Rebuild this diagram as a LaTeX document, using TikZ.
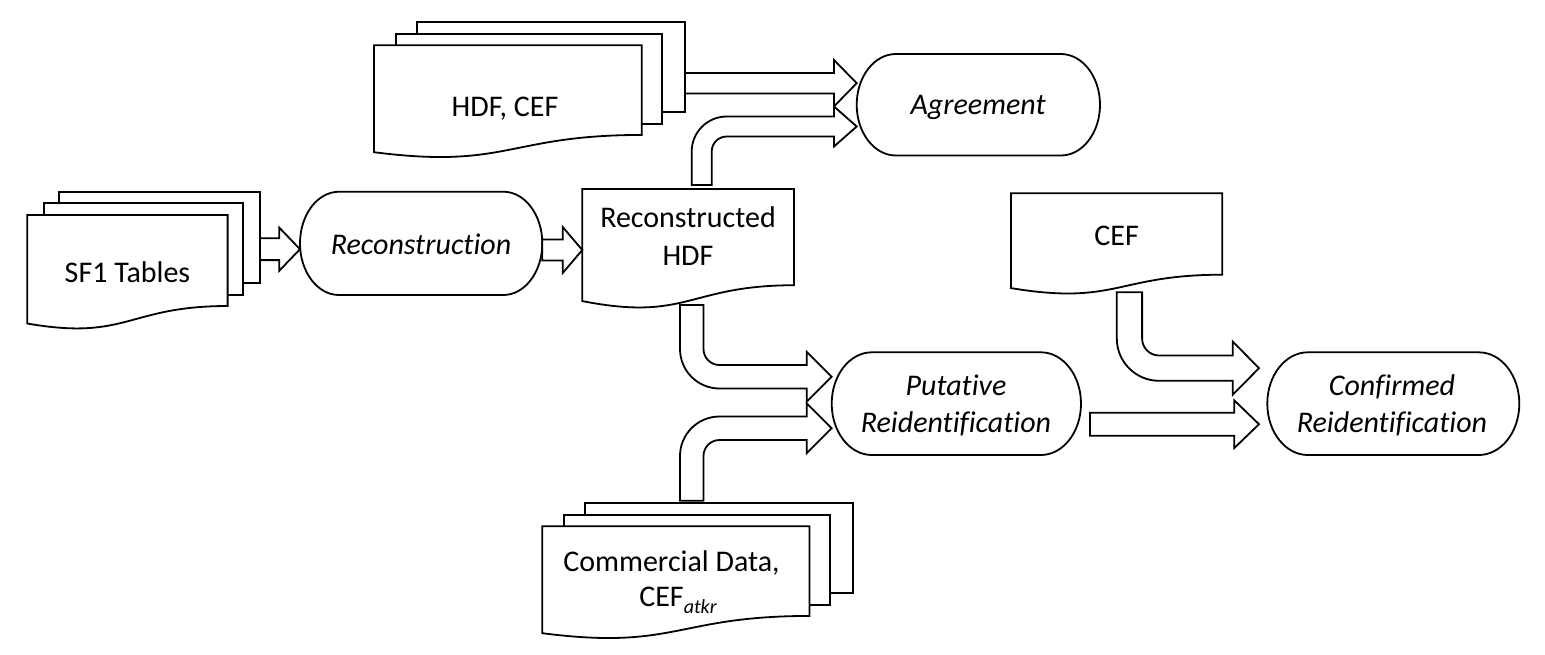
\documentclass[tikz,border=0pt]{standalone}
\usepackage{fontspec}
\setmainfont{Carlito}[Ligatures=CommonOff]
\tikzset{
  shapeline/.style={draw=black, line width=1.8pt, fill=white, line join=miter},
  lbl/.style={anchor=base, inner sep=0pt, font=\fontsize{30}{36.6}\selectfont},
  lbli/.style={anchor=base, inner sep=0pt, font=\fontsize{30}{36.6}\selectfont\itshape}
}
\newcommand\TermBox[4]{%
  \pgfmathsetmacro\tmRX{0.161*(#3-#1)}%
  \pgfmathsetmacro\tmRY{(#4-#2)/2}%
  \pgfmathsetmacro\tmYC{(#2+#4)/2}%
  \def\tmK{0.5523}%
  \path[shapeline] (#1+\tmRX,#2) -- (#3-\tmRX,#2)
    .. controls (#3-\tmRX+\tmK*\tmRX,#2) and (#3,\tmYC-\tmK*\tmRY) .. (#3,\tmYC)
    .. controls (#3,\tmYC+\tmK*\tmRY) and (#3-\tmRX+\tmK*\tmRX,#4) .. (#3-\tmRX,#4)
    -- (#1+\tmRX,#4)
    .. controls (#1+\tmRX-\tmK*\tmRX,#4) and (#1,\tmYC+\tmK*\tmRY) .. (#1,\tmYC)
    .. controls (#1,\tmYC-\tmK*\tmRY) and (#1+\tmRX-\tmK*\tmRX,#2) .. (#1+\tmRX,#2) -- cycle;}
\newcommand\OneDoc[4]{%
  \pgfmathsetmacro\tmMid{(#1+#3)/2}%
  \path[shapeline] (#1,#2) -- (#3,#2) -- (#3,#2+0.802*#4)
    .. controls (\tmMid,#2+0.802*#4) and (\tmMid,#2+1.107*#4) .. (#1,#2+0.934*#4) -- cycle;}
\newcommand\MultiDoc[4]{%
  \path[shapeline] (#1+0.1376*#3,#2) rectangle (#1+#3,#2+0.6663*#4);
  \path[shapeline] (#1+0.0709*#3,#2+0.0840*#4) rectangle (#1+0.9259*#3,#2+0.7524*#4);
  \path[shapeline] (#1,#2+0.1701*#4) -- (#1+0.8609*#3,#2+0.1701*#4) -- (#1+0.8609*#3,#2+0.8344*#4)
    .. controls (#1+0.4305*#3,#2+0.8344*#4) and (#1+0.4305*#3,#2+1.0899*#4) .. (#1,#2+0.9621*#4) -- cycle;}
\newcommand\BlockArr[6]{%
  \path[shapeline] (#1,#4-#5) -- (#2,#4-#5) -- (#2,#4-#6) -- (#3,#4) -- (#2,#4+#6) -- (#2,#4+#5) -- (#1,#4+#5) -- cycle;}
% down then right: xl xr ytop yinner(top) youter(bottom) xhead headhalf xtip rinner
\newcommand\BentDown[9]{%
  \pgfmathsetmacro\tmRO{#9+(#2-#1)}%
  \pgfmathsetmacro\tmYC{(#4+#5)/2}%
  \def\tmK{0.5523}%
  \path[shapeline] (#1,#3) -- (#2,#3) -- (#2,#4-#9)
    .. controls (#2,#4-#9+\tmK*#9) and (#2+#9-\tmK*#9,#4) .. (#2+#9,#4)
    -- (#6,#4) -- (#6,\tmYC-#7) -- (#8,\tmYC) -- (#6,\tmYC+#7) -- (#6,#5)
    -- (#1+\tmRO,#5)
    .. controls (#1+\tmRO-\tmK*\tmRO,#5) and (#1,#5-\tmRO+\tmK*\tmRO) .. (#1,#5-\tmRO) -- cycle;}
% up then right: xl xr ybottom youter(top) yinner(bottom) xhead headhalf xtip rinner
\newcommand\BentUp[9]{%
  \pgfmathsetmacro\tmRO{#9+(#2-#1)}%
  \pgfmathsetmacro\tmYC{(#4+#5)/2}%
  \def\tmK{0.5523}%
  \path[shapeline] (#1,#3) -- (#1,#4+\tmRO)
    .. controls (#1,#4+\tmRO-\tmK*\tmRO) and (#1+\tmRO-\tmK*\tmRO,#4) .. (#1+\tmRO,#4)
    -- (#6,#4) -- (#6,\tmYC-#7) -- (#8,\tmYC) -- (#6,\tmYC+#7) -- (#6,#5)
    -- (#2+#9,#5)
    .. controls (#2+#9-\tmK*#9,#5) and (#2,#5+#9-\tmK*#9) .. (#2,#5+#9) -- (#2,#3) -- cycle;}
\begin{document}
\begin{tikzpicture}[x=1pt,y=-1pt]
\useasboundingbox[fill=white] (0,0) rectangle (1545,654);
% documents
\MultiDoc{27.3}{191.7}{232.7}{137}
\MultiDoc{374}{22.3}{311}{135}
\MultiDoc{542.3}{503.3}{310.4}{135}
\OneDoc{582.3}{189}{794}{120}
\OneDoc{1011}{193.3}{1222.3}{101.5}
% terminators
\TermBox{300}{191.7}{542.3}{295}
\TermBox{856.7}{54}{1100}{155.5}
\TermBox{831.7}{352.3}{1081}{455}
\TermBox{1267.3}{352.3}{1519.3}{455}
% block arrows
\BlockArr{260}{279.3}{300}{249.2}{10.9}{21.5}
\BlockArr{542.3}{562.7}{582.3}{250}{10.5}{23}
\BlockArr{685}{834}{856.7}{83.2}{10.3}{23.2}
\BlockArr{1090}{1234.3}{1259}{424.2}{11.5}{23.8}
\BentUp{691.7}{711.7}{185}{116.5}{136.5}{834}{20}{856.7}{15}
\BentDown{680}{703.5}{305}{365}{388.5}{806.7}{25}{831.7}{16}
\BentUp{680}{703.5}{500.7}{416.5}{440}{806.7}{25}{831.7}{16}
\BentDown{1116.8}{1142.1}{292.3}{355.5}{380.8}{1232.7}{26.6}{1259}{17}
% labels
\node[lbl] (sf1) at (127.5,282) {SF1 Tables};
\node[lbl] (hdfcef) at (505,116.5) {HDF, CEF};
\node[lbli] (recon) at (421,254.3) {Reconstruction};
\node[lbli] (agree) at (978,114.3) {Agreement};
\node[lbl] (rechdfA) at (688,227.3) {Reconstructed};
\node[lbl] (rechdfB) at (688,265) {HDF};
\node[lbl] (cef) at (1116.6,245) {CEF};
\node[lbli] (putA) at (956,395) {Putative};
\node[lbli] (putB) at (956,432.3) {Reidentification};
\node[lbli] (confA) at (1392,395) {Confirmed};
\node[lbli] (confB) at (1392,432.3) {Reidentification};
\node[lbl] (commA) at (671.5,571.7) {Commercial Data,};
\node[lbl] (commB) at (678,606.7) {CEF\raisebox{-6.5pt}{\fontsize{20}{20}\selectfont\itshape atkr}};
\end{tikzpicture}
\end{document}
